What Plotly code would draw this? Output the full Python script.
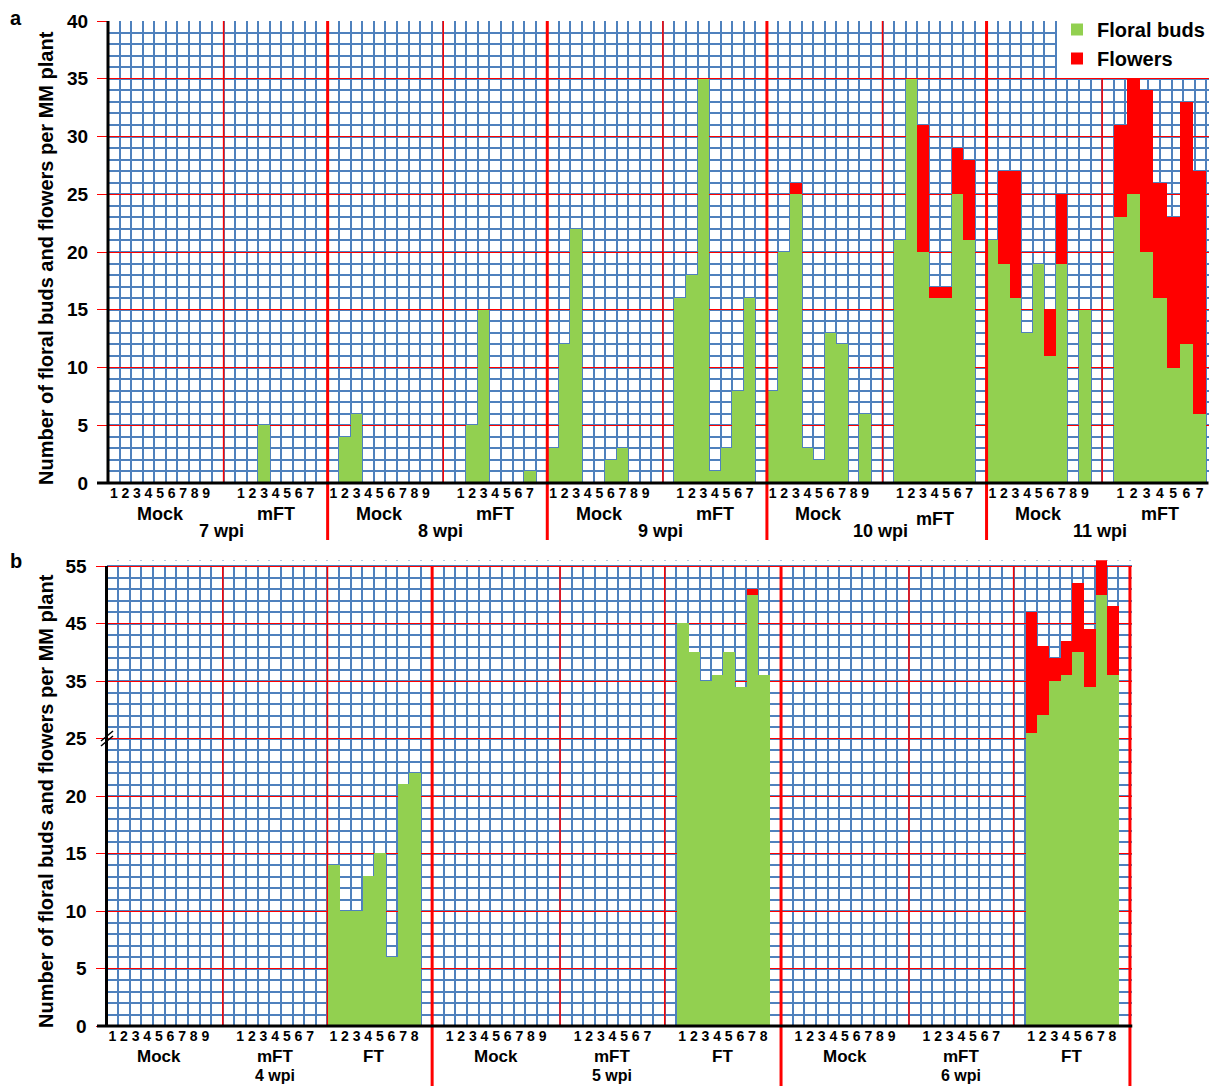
import plotly.graph_objects as go

# ---------------- DATA ----------------
wpi_a = ["7 wpi", "8 wpi", "9 wpi", "10 wpi", "11 wpi"]
wpi_b = ["4 wpi", "5 wpi", "6 wpi"]
mock_plants = ["1", "2", "3", "4", "5", "6", "7", "8", "9"]
mft_plants = ["1", "2", "3", "4", "5", "6", "7"]
ft_plants = ["1", "2", "3", "4", "5", "6", "7", "8"]

# panel a
mock_buds_7wpi = [0, 0, 0, 0, 0, 0, 0, 0, 0]
mock_flowers_7wpi = [0, 0, 0, 0, 0, 0, 0, 0, 0]
mft_buds_7wpi = [0, 0, 5, 0, 0, 0, 0]
mft_flowers_7wpi = [0, 0, 0, 0, 0, 0, 0]

mock_buds_8wpi = [0, 4, 6, 0, 0, 0, 0, 0, 0]
mock_flowers_8wpi = [0, 0, 0, 0, 0, 0, 0, 0, 0]
mft_buds_8wpi = [0, 5, 15, 0, 0, 0, 1]
mft_flowers_8wpi = [0, 0, 0, 0, 0, 0, 0]

mock_buds_9wpi = [3, 12, 22, 0, 0, 2, 3, 0, 0]
mock_flowers_9wpi = [0, 0, 0, 0, 0, 0, 0, 0, 0]
mft_buds_9wpi = [16, 18, 35, 1, 3, 8, 16]
mft_flowers_9wpi = [0, 0, 0, 0, 0, 0, 0]

mock_buds_10wpi = [8, 20, 25, 3, 2, 13, 12, 0, 6]
mock_flowers_10wpi = [0, 0, 1, 0, 0, 0, 0, 0, 0]
mft_buds_10wpi = [21, 35, 20, 16, 16, 25, 21]
mft_flowers_10wpi = [0, 0, 11, 1, 1, 4, 7]

mock_buds_11wpi = [21, 19, 16, 13, 19, 11, 19, 0, 15]
mock_flowers_11wpi = [0, 8, 11, 0, 0, 4, 6, 0, 0]
mft_buds_11wpi = [23, 25, 20, 16, 10, 12, 6]
mft_flowers_11wpi = [8, 10, 14, 10, 13, 21, 21]

# panel b
mock_buds_4wpi = [0, 0, 0, 0, 0, 0, 0, 0, 0]
mft_buds_4wpi = [0, 0, 0, 0, 0, 0, 0]
ft_buds_4wpi = [14, 10, 10, 13, 15, 6, 21, 22]
ft_flowers_4wpi = [0, 0, 0, 0, 0, 0, 0, 0]

mock_buds_5wpi = [0, 0, 0, 0, 0, 0, 0, 0, 0]
mft_buds_5wpi = [0, 0, 0, 0, 0, 0, 0]
ft_buds_5wpi = [45, 40, 35, 36, 40, 34, 50, 36]
ft_flowers_5wpi = [0, 0, 0, 0, 0, 0, 1, 0]

mock_buds_6wpi = [0, 0, 0, 0, 0, 0, 0, 0, 0]
mft_buds_6wpi = [0, 0, 0, 0, 0, 0, 0]
ft_buds_6wpi = [26, 29, 35, 36, 40, 34, 50, 36]
ft_flowers_6wpi = [21, 12, 4, 6, 12, 10, 6, 12]

y_ticks_a = [0, 5, 10, 15, 20, 25, 30, 35, 40]
y_ticks_b = [0, 5, 10, 15, 20, 25, 35, 45, 55]
BREAK_AT = 25  # panel b axis: above 25 the scale is compressed 2x

# ---------------- LAYOUT CONSTANTS ----------------
W, H = 1210, 1086
GREEN = "#92D050"
RED = "#FF0000"
BLUE = "#4F81BD"
FONT = "Liberation Sans, Arial, sans-serif"


def px_x(p):
    return p / W


def px_y(p):
    return 1 - p / H


def brk(v):
    return v if v <= BREAK_AT else BREAK_AT + (v - BREAK_AT) / 2.0


def place(start, n, span=None):
    w = (span if span else n) / n
    return [start + (i + 0.5) * w for i in range(n)], [w] * n


# panel a geometry (in grid cells)
A_GROUP = 19
A_MOCK0, A_MFT0, A_DIV = 0, 11, 10
A_MFT_SPAN = [7, 7, 7, 7, 8]
A_MFT_LABEL_DY = [0, 0, 0, 5, 0]
A_CELL_PX, A_X0_PX = 11.56, 108.0
A_RANGE = 95.2
# panel b geometry
B_GROUP = [28, 30, 30]
B_MOCK0 = [0, 1, 1]
B_MFT0 = [11, 12, 12]
B_FT0 = [19, 21, 21]
B_DIVS = [[10, 19], [11, 20], [11, 20]]
B_CELL_PX, B_X0_PX = 11.63, 106.5
B_RANGE = 88.2
B_YTOP = 40.5

# ---------------- BUILD PANEL A ----------------
a_mock_b = [mock_buds_7wpi, mock_buds_8wpi, mock_buds_9wpi, mock_buds_10wpi, mock_buds_11wpi]
a_mock_f = [mock_flowers_7wpi, mock_flowers_8wpi, mock_flowers_9wpi, mock_flowers_10wpi, mock_flowers_11wpi]
a_mft_b = [mft_buds_7wpi, mft_buds_8wpi, mft_buds_9wpi, mft_buds_10wpi, mft_buds_11wpi]
a_mft_f = [mft_flowers_7wpi, mft_flowers_8wpi, mft_flowers_9wpi, mft_flowers_10wpi, mft_flowers_11wpi]

ax, ab, af, aw, a_tv, a_tt = [], [], [], [], [], []
for g in range(len(wpi_a)):
    off = g * A_GROUP
    xs, ws = place(off + A_MOCK0, len(mock_plants))
    ax += xs; aw += ws; ab += a_mock_b[g]; af += a_mock_f[g]
    a_tv += xs; a_tt += mock_plants
    xs, ws = place(off + A_MFT0, len(mft_plants), A_MFT_SPAN[g])
    ax += xs; aw += ws; ab += a_mft_b[g]; af += a_mft_f[g]
    a_tv += xs; a_tt += mft_plants

# ---------------- BUILD PANEL B ----------------
b_mock = [mock_buds_4wpi, mock_buds_5wpi, mock_buds_6wpi]
b_mft = [mft_buds_4wpi, mft_buds_5wpi, mft_buds_6wpi]
b_ft_b = [ft_buds_4wpi, ft_buds_5wpi, ft_buds_6wpi]
b_ft_f = [ft_flowers_4wpi, ft_flowers_5wpi, ft_flowers_6wpi]

bx, bb, bf, bw, b_tv, b_tt = [], [], [], [], [], []
b_offsets = []
off = 0
for g in range(len(wpi_b)):
    b_offsets.append(off)
    for start, plants, buds, flw in [
        (B_MOCK0[g], mock_plants, b_mock[g], [0] * len(mock_plants)),
        (B_MFT0[g], mft_plants, b_mft[g], [0] * len(mft_plants)),
        (B_FT0[g], ft_plants, b_ft_b[g], b_ft_f[g]),
    ]:
        xs, ws = place(off + start, len(plants))
        bx += xs; bw += ws
        bb += [brk(v) for v in buds]
        bf += [brk(v + f) - brk(v) for v, f in zip(buds, flw)]
        b_tv += xs; b_tt += plants
    off += B_GROUP[g]

fig = go.Figure()
fig.add_trace(go.Bar(x=ax, y=ab, width=aw, name="Floral buds", marker=dict(color=GREEN, line=dict(width=0)),
                     xaxis="x", yaxis="y", legendgroup="buds", hoverinfo="skip"))
fig.add_trace(go.Bar(x=ax, y=af, width=aw, name="Flowers", marker=dict(color=RED, line=dict(width=0)),
                     xaxis="x", yaxis="y", legendgroup="flw", hoverinfo="skip"))
fig.add_trace(go.Bar(x=bx, y=bb, width=bw, name="Floral buds", marker=dict(color=GREEN, line=dict(width=0)),
                     xaxis="x2", yaxis="y2", legendgroup="buds", showlegend=False, hoverinfo="skip"))
fig.add_trace(go.Bar(x=bx, y=bf, width=bw, name="Flowers", marker=dict(color=RED, line=dict(width=0)),
                     xaxis="x2", yaxis="y2", legendgroup="flw", showlegend=False, hoverinfo="skip"))

bold = dict(family=FONT, color="black", weight="bold")
minor_x = dict(tickmode="linear", tick0=0, dtick=1, showgrid=True, gridcolor=BLUE, gridwidth=1.6, ticks="")
minor_y = dict(tickmode="linear", tick0=0, dtick=1, showgrid=True, gridcolor=BLUE, gridwidth=1.6, ticks="")

a_dom_x = [px_x(A_X0_PX), px_x(A_X0_PX + A_RANGE * A_CELL_PX)]
b_dom_x = [px_x(B_X0_PX), px_x(B_X0_PX + B_RANGE * B_CELL_PX)]
b_top_px = 1026 - B_YTOP * 11.5

fig.update_layout(
    width=W, height=H, margin=dict(l=0, r=0, t=0, b=0, autoexpand=False),
    paper_bgcolor="white", plot_bgcolor="white",
    barmode="stack", bargap=0, showlegend=True,
    font=dict(family=FONT, color="black"),
    xaxis=dict(domain=a_dom_x, range=[0, A_RANGE], anchor="y", tickmode="array", tickvals=a_tv, ticktext=a_tt,
               tickangle=0, ticks="", showgrid=False, zeroline=False, showline=False, minor=minor_x,
               automargin=False, tickfont=dict(size=14, **bold), fixedrange=True),
    yaxis=dict(domain=[px_y(483), px_y(21)], range=[0, 40], anchor="x", tickmode="array", tickvals=y_ticks_a,
               ticktext=[str(v) for v in y_ticks_a], showgrid=True, gridcolor=RED, gridwidth=1.3,
               zeroline=False, showline=False, ticks="outside", ticklen=10, tickwidth=1.3, tickcolor=RED,
               ticklabelstandoff=5, minor=minor_y, automargin=False, tickfont=dict(size=19, **bold),
               fixedrange=True),
    xaxis2=dict(domain=b_dom_x, range=[0, B_RANGE], anchor="y2", tickmode="array", tickvals=b_tv, ticktext=b_tt,
                tickangle=0, ticks="", showgrid=False, zeroline=False, showline=False, minor=minor_x,
                automargin=False, tickfont=dict(size=14, **bold), fixedrange=True),
    yaxis2=dict(domain=[px_y(1026), px_y(b_top_px)], range=[0, B_YTOP], anchor="x2", tickmode="array",
                tickvals=[brk(v) for v in y_ticks_b], ticktext=[str(v) for v in y_ticks_b],
                showgrid=True, gridcolor=RED, gridwidth=1.3, zeroline=False, showline=False,
                ticks="outside", ticklen=10, tickwidth=1.3, tickcolor=RED, ticklabelstandoff=5,
                minor=minor_y, automargin=False, tickfont=dict(size=19, **bold), fixedrange=True),
    legend=dict(x=px_x(1057), xanchor="left", y=px_y(10), yanchor="top", bgcolor="white",
                font=dict(size=20, **bold), traceorder="normal", borderwidth=0,
                itemclick=False, itemdoubleclick=False, tracegroupgap=0),
)

shapes = []
# panel b: white strip above 55 so the grid stops at the top line
shapes.append(dict(type="rect", xref="x2", yref="y2", x0=0, x1=B_RANGE, y0=40.08, y1=B_YTOP,
                   fillcolor="white", line=dict(width=0), layer="between"))
# panel a dividers
for g in range(len(wpi_a)):
    xd = g * A_GROUP + A_DIV
    shapes.append(dict(type="line", xref="x", yref="y", x0=xd, x1=xd, y0=0, y1=40,
                       line=dict(color=RED, width=1.5), layer="between"))
    if g > 0:
        xt = g * A_GROUP
        shapes.append(dict(type="line", xref="x", yref="paper", x0=xt, x1=xt, y0=px_y(540), y1=px_y(21),
                           line=dict(color=RED, width=3), layer="above"))
# panel b dividers
for g in range(len(wpi_b)):
    for d in B_DIVS[g]:
        xd = b_offsets[g] + d
        shapes.append(dict(type="line", xref="x2", yref="y2", x0=xd, x1=xd, y0=0, y1=40,
                           line=dict(color=RED, width=1.5), layer="between"))
    xt = b_offsets[g] + B_GROUP[g]
    shapes.append(dict(type="line", xref="x2", yref="paper", x0=xt, x1=xt, y0=0, y1=px_y(566),
                       line=dict(color=RED, width=3), layer="above"))
# axis lines (black)
shapes += [
    dict(type="line", xref="paper", yref="paper", x0=a_dom_x[0], x1=a_dom_x[0], y0=px_y(483), y1=px_y(21),
         line=dict(color="black", width=3)),
    dict(type="line", xref="paper", yref="paper", x0=px_x(97), x1=a_dom_x[1], y0=px_y(483), y1=px_y(483),
         line=dict(color="black", width=3)),
    dict(type="line", xref="paper", yref="paper", x0=b_dom_x[0], x1=b_dom_x[0], y0=px_y(1026), y1=px_y(566),
         line=dict(color="black", width=3)),
    dict(type="line", xref="paper", yref="paper", x0=px_x(97), x1=b_dom_x[1], y0=px_y(1026), y1=px_y(1026),
         line=dict(color="black", width=3)),
    # axis break marks
    dict(type="line", xref="paper", yref="paper", x0=px_x(101), x1=px_x(113), y0=px_y(741), y1=px_y(731),
         line=dict(color="black", width=1.5)),
    dict(type="line", xref="paper", yref="paper", x0=px_x(101), x1=px_x(113), y0=px_y(746), y1=px_y(736),
         line=dict(color="black", width=1.5)),
]
fig.update_layout(shapes=shapes)

ann = []
lab = dict(size=18, **bold)
for g, name in enumerate(wpi_a):
    off = g * A_GROUP
    ann.append(dict(x=off + A_MOCK0 + len(mock_plants) / 2, y=px_y(514), xref="x", yref="paper", text="Mock",
                    showarrow=False, font=lab, xanchor="center", yanchor="middle"))
    ann.append(dict(x=off + A_MFT0 + A_MFT_SPAN[g] / 2, y=px_y(514 + A_MFT_LABEL_DY[g]), xref="x", yref="paper",
                    text="mFT", showarrow=False, font=lab, xanchor="center", yanchor="middle"))
    ann.append(dict(x=off + 9.8, y=px_y(531), xref="x", yref="paper", text=name,
                    showarrow=False, font=lab, xanchor="center", yanchor="middle"))
for g, name in enumerate(wpi_b):
    off = b_offsets[g]
    for xc, txt in [(B_MOCK0[g] + len(mock_plants) / 2, "Mock"),
                    (B_MFT0[g] + len(mft_plants) / 2, "mFT"),
                    (B_FT0[g] + len(ft_plants) / 2, "FT")]:
        ann.append(dict(x=off + xc, y=px_y(1056), xref="x2", yref="paper", text=txt, showarrow=False,
                        font=dict(size=17, **bold), xanchor="center", yanchor="middle"))
    ann.append(dict(x=off + B_MFT0[g] + len(mft_plants) / 2, y=px_y(1075), xref="x2", yref="paper", text=name,
                    showarrow=False, font=dict(size=16, **bold), xanchor="center", yanchor="middle"))
ytitle = "Number of floral buds and flowers per MM plant"
ann.append(dict(x=px_x(46), y=px_y(258), xref="paper", yref="paper", text=ytitle, textangle=-90,
                showarrow=False, font=dict(size=20, **bold), xanchor="center", yanchor="middle"))
ann.append(dict(x=px_x(46), y=px_y(801), xref="paper", yref="paper", text=ytitle, textangle=-90,
                showarrow=False, font=dict(size=20, **bold), xanchor="center", yanchor="middle"))
ann.append(dict(x=px_x(16), y=px_y(18), xref="paper", yref="paper", text="a", showarrow=False,
                font=dict(size=20, **bold), xanchor="center", yanchor="middle"))
ann.append(dict(x=px_x(16), y=px_y(561), xref="paper", yref="paper", text="b", showarrow=False,
                font=dict(size=20, **bold), xanchor="center", yanchor="middle"))
fig.update_layout(annotations=ann)

fig.write_html("out.html", config={"displayModeBar": False},
               post_script="document.body.style.margin='0px';"
                           "document.documentElement.style.overflow='hidden';")
